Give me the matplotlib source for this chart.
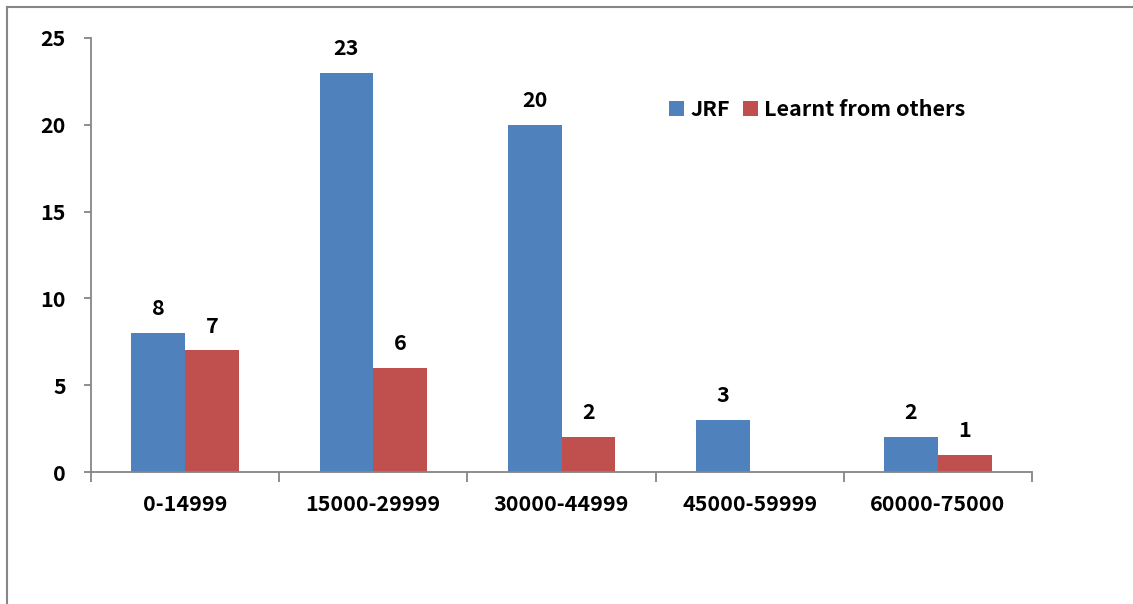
import matplotlib
matplotlib.use("Agg")
import matplotlib.pyplot as plt
from matplotlib.lines import Line2D
import numpy as np

categories = ["0-14999", "15000-29999", "30000-44999", "45000-59999", "60000-75000"]
jrf = [8, 23, 20, 3, 2]
learnt = [7, 6, 2, 0, 1]
series_names = ["JRF", "Learnt from others"]
y_ticks = [0, 5, 10, 15, 20, 25]

BLUE = "#4F81BD"
RED = "#C0504D"
AXIS = "#868686"
FS = 15.5
FAMILY = ["Noto Sans CJK SC", "DejaVu Sans"]

plt.rcParams["font.family"] = FAMILY
plt.rcParams["font.weight"] = "bold"

fig = plt.figure(figsize=(11.33, 6.04), dpi=100)
ax = fig.add_axes([0.0803, 0.2185, 0.8306, 0.7186])

x = np.arange(len(categories))
w = 1 / 3.5
b1 = ax.bar(x - w / 2, jrf, w, color=BLUE, label=series_names[0])
b2 = ax.bar(x + w / 2, learnt, w, color=RED, label=series_names[1])

for bars, vals in ((b1, jrf), (b2, learnt)):
    for rect, v in zip(bars, vals):
        if v == 0:
            continue
        ax.annotate(str(v), (rect.get_x() + rect.get_width() / 2, v),
                    xytext=(0, 10), textcoords="offset points",
                    ha="center", va="bottom", fontsize=FS,
                    family=FAMILY, fontweight="bold")

ax.set_xlim(-0.5, len(categories) - 0.5)
ax.set_ylim(0, 25)
ax.set_yticks(y_ticks)
ax.set_xticks(x)
ax.set_xticklabels(categories)
ax.set_xticks(np.arange(-0.5, len(categories)), minor=True)

for s in ("top", "right"):
    ax.spines[s].set_visible(False)
for s in ("left", "bottom"):
    ax.spines[s].set_color(AXIS)
    ax.spines[s].set_linewidth(1.3)

ax.tick_params(axis="y", direction="out", length=5, width=1.3, color=AXIS,
               pad=13, labelsize=FS)
ax.tick_params(axis="x", which="major", length=0, pad=16, labelsize=FS)
ax.tick_params(axis="x", which="minor", direction="out", length=7, width=1.3, color=AXIS)
for lbl in ax.get_xticklabels() + ax.get_yticklabels():
    lbl.set_fontweight("bold")
    lbl.set_family(FAMILY)

leg = ax.legend(loc="upper left", bbox_to_anchor=(0.605, 0.88), ncol=2,
                frameon=False, prop={"family": FAMILY, "weight": "bold", "size": FS},
                handlelength=0.7, handleheight=0.7,
                handletextpad=0.3, columnspacing=0.6, borderaxespad=0)

# chart frame (left and top edges)
fig.add_artist(Line2D([0.0062, 0.0062], [0.0, 0.9885], color=AXIS, lw=1.5,
                      transform=fig.transFigure))
fig.add_artist(Line2D([0.0062, 1.0], [0.9885, 0.9885], color=AXIS, lw=1.5,
                      transform=fig.transFigure))

fig.savefig("out.png", dpi=100)
